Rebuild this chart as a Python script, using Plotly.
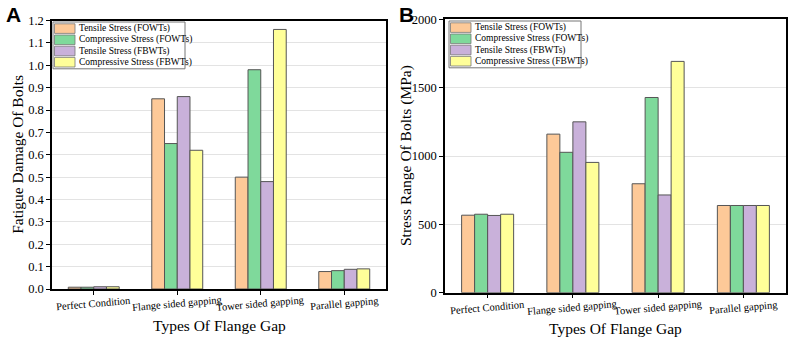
import plotly.graph_objects as go

categories = ["Perfect Condition", "Flange sided gapping", "Tower sided gapping", "Parallel gapping"]
series_names = ["Tensile Stress (FOWTs)", "Compressive Stress (FOWTs)", "Tensile Stress (FBWTs)", "Compressive Stress (FBWTs)"]

damage_tensile_fowt = [0.008, 0.85, 0.50, 0.078]
damage_compr_fowt = [0.008, 0.65, 0.98, 0.082]
damage_tensile_fbwt = [0.010, 0.86, 0.48, 0.088]
damage_compr_fbwt = [0.010, 0.62, 1.16, 0.090]

stress_tensile_fowt = [567, 1160, 797, 638]
stress_compr_fowt = [574, 1027, 1428, 638]
stress_tensile_fbwt = [565, 1250, 715, 638]
stress_compr_fbwt = [574, 953, 1692, 638]

a_ticks = [0.0, 0.1, 0.2, 0.3, 0.4, 0.5, 0.6, 0.7, 0.8, 0.9, 1.0, 1.1, 1.2]
b_ticks = [0, 500, 1000, 1500, 2000]

colors = ["#FDC998", "#7FD99B", "#C9B1DA", "#FFFF99"]
outline = "#555555"

damage = [damage_tensile_fowt, damage_compr_fowt, damage_tensile_fbwt, damage_compr_fbwt]
stress = [stress_tensile_fowt, stress_compr_fowt, stress_tensile_fbwt, stress_compr_fbwt]

fig = go.Figure()
for name, vals, c in zip(series_names, damage, colors):
    fig.add_trace(go.Bar(x=categories, y=vals, name=name, marker=dict(color=c, line=dict(color=outline, width=1)),
                         xaxis="x", yaxis="y", showlegend=False))
for name, vals, c in zip(series_names, stress, colors):
    fig.add_trace(go.Bar(x=categories, y=vals, name=name, marker=dict(color=c, line=dict(color=outline, width=1)),
                         xaxis="x2", yaxis="y2", showlegend=False))

W, H = 789, 339
serif = "Liberation Serif"
axis_common = dict(showline=True, linecolor="black", linewidth=1.5, mirror=True, ticks="outside",
                   ticklen=4, tickcolor="black", automargin=False)
ytick_font = dict(family=serif, size=12.5, color="black")

a_x0, a_x1, a_yb, a_yt = 52 / W, 386 / W, 1 - 289 / H, 1 - 20.5 / H
b_x0, b_x1, b_yb, b_yt = 445 / W, 786 / W, 1 - 292.7 / H, 1 - 19.3 / H

annotations = [
    dict(text="<b>A</b>", x=4 / W, y=1 - 1 / H, xref="paper", yref="paper", xanchor="left", yanchor="top",
         showarrow=False, font=dict(family="Liberation Sans", size=21, color="black")),
    dict(text="<b>B</b>", x=397 / W, y=1 - 1 / H, xref="paper", yref="paper", xanchor="left", yanchor="top",
         showarrow=False, font=dict(family="Liberation Sans", size=21, color="black")),
    dict(text="Types Of Flange Gap", x=(a_x0 + a_x1) / 2, y=1 - 325 / H, xref="paper", yref="paper",
         xanchor="center", yanchor="middle", showarrow=False, font=dict(family=serif, size=15.5, color="black")),
    dict(text="Types Of Flange Gap", x=(b_x0 + b_x1) / 2, y=1 - 328 / H, xref="paper", yref="paper",
         xanchor="center", yanchor="middle", showarrow=False, font=dict(family=serif, size=15.5, color="black")),
    dict(text="Fatigue Damage Of Bolts", x=18 / W, y=(a_yb + a_yt) / 2, xref="paper", yref="paper",
         xanchor="center", yanchor="middle", textangle=-90, showarrow=False,
         font=dict(family=serif, size=15.5, color="black")),
    dict(text="Stress Range Of Bolts (MPa)", x=406 / W, y=(b_yb + b_yt) / 2, xref="paper", yref="paper",
         xanchor="center", yanchor="middle", textangle=-90, showarrow=False,
         font=dict(family=serif, size=15.5, color="black")),
]

# category labels, slightly rotated, centred under each tick
for xr, ycen in (("x", 1 - 303 / H), ("x2", 1 - 307 / H)):
    for cat in categories:
        annotations.append(dict(text=cat, x=cat, xref=xr, y=ycen, yref="paper", xanchor="center",
                                yanchor="middle", textangle=-5, showarrow=False,
                                font=dict(family=serif, size=10.5, color="black")))

# legends drawn as boxed swatches + labels
shapes = []
for (x0, ytop) in ((53 / W, 1 - 22 / H), (449 / W, 1 - 21 / H)):
    row = 11.2 / H
    box_w = 132 / W
    shapes.append(dict(type="rect", xref="paper", yref="paper", x0=x0, x1=x0 + box_w,
                       y0=ytop - 4 * row - 2 / H, y1=ytop, line=dict(color="#777777", width=1),
                       fillcolor="white", layer="above"))
    for i, (name, c) in enumerate(zip(series_names, colors)):
        yc = ytop - 1 / H - row * (i + 0.5)
        shapes.append(dict(type="rect", xref="paper", yref="paper", x0=x0 + 1.5 / W, x1=x0 + 22 / W,
                           y0=yc - 4.8 / H, y1=yc + 4.8 / H, line=dict(color="#777777", width=0.8),
                           fillcolor=c, layer="above"))
        annotations.append(dict(text=name, x=x0 + 24 / W, y=yc, xref="paper", yref="paper",
                                xanchor="left", yanchor="middle", showarrow=False,
                                font=dict(family=serif, size=9.5, color="black")))

fig.update_layout(
    width=W, height=H, margin=dict(l=0, r=0, t=0, b=0),
    paper_bgcolor="white", plot_bgcolor="white",
    barmode="group", bargap=0.39, bargroupgap=0,
    font=dict(family=serif, color="black"),
    showlegend=False,
    xaxis=dict(domain=[a_x0, a_x1], anchor="y", showticklabels=False, **axis_common),
    yaxis=dict(domain=[a_yb, a_yt], anchor="x", range=[0, 1.2], tickvals=a_ticks,
               ticktext=[f"{t:.1f}" for t in a_ticks], showgrid=True, gridcolor="#E3E3E3",
               tickfont=ytick_font, **axis_common),
    xaxis2=dict(domain=[b_x0, b_x1], anchor="y2", showticklabels=False, **axis_common),
    yaxis2=dict(domain=[b_yb, b_yt], anchor="x2", range=[0, 2000], tickvals=b_ticks,
                showgrid=True, gridcolor="#E3E3E3", tickfont=ytick_font, **axis_common),
    annotations=annotations,
    shapes=shapes,
)

fig.write_html("out.html", config={"displayModeBar": False},
               post_script="document.body.style.margin='0';document.body.style.overflow='hidden';")
